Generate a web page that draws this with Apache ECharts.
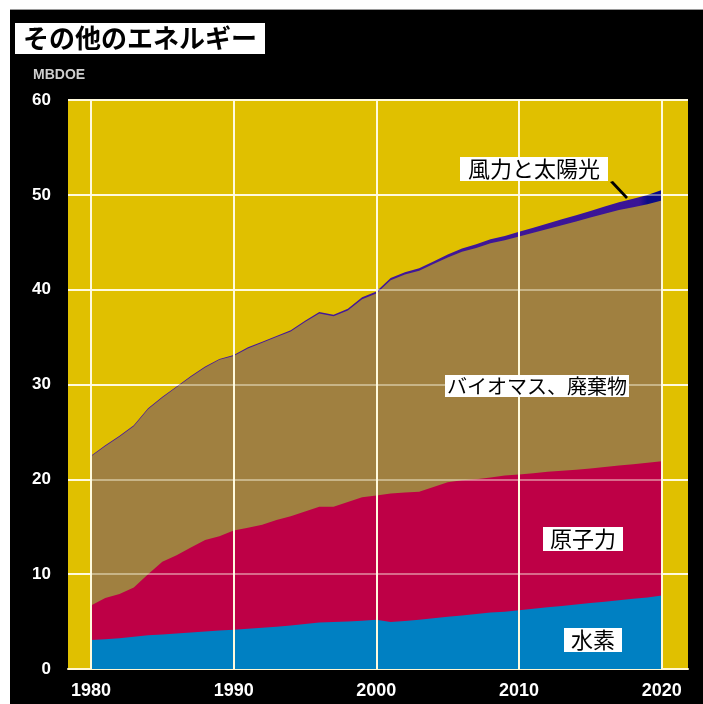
<!DOCTYPE html>
<html>
<head>
<meta charset="utf-8">
<script src="https://cdn.jsdelivr.net/npm/echarts@6/dist/echarts.min.js"></script>
<style>
  html, body { margin: 0; padding: 0; background: #fff; }
  #frame { position: absolute; left: 10px; top: 9px; width: 693px; height: 694px; border-top: 1px solid #9a9a9a; background: #000; }
  #chart { width: 693px; height: 694px; }
</style>
</head>
<body>
<div id="frame"><div id="chart"></div></div>
<script>
// Years on the horizontal axis
const years = [];
for (let y = 1980; y <= 2020; y++) years.push(y);

// Tick labels
const xTicks = [1980, 1990, 2000, 2010, 2020];
const yTicks = [0, 10, 20, 30, 40, 50, 60];

// Layers in MBDOE, stacked bottom to top
const hydro = [3.05, 3.15, 3.25, 3.4, 3.55, 3.65, 3.75, 3.85, 3.95, 4.05,
  4.15, 4.25, 4.35, 4.45, 4.6, 4.75, 4.9, 4.95, 5.0, 5.1,
  5.2, 4.95, 5.05, 5.2, 5.35, 5.5, 5.65, 5.8, 5.95, 6.05,
  6.2, 6.35, 6.5, 6.65, 6.8, 6.95, 7.1, 7.25, 7.4, 7.55, 7.75];
const nuclear = [3.65, 4.35, 4.65, 5.2, 6.45, 7.65, 8.25, 8.95, 9.65, 9.95,
  10.45, 10.65, 10.85, 11.25, 11.5, 11.85, 12.2, 12.15, 12.6, 13.0,
  13.1, 13.55, 13.55, 13.5, 13.85, 14.2, 14.25, 14.2, 14.25, 14.35,
  14.3, 14.3, 14.3, 14.25, 14.2, 14.2, 14.2, 14.2, 14.2, 14.2, 14.15];
const biomass = [15.7, 16.0, 16.6, 17.0, 17.4, 17.3, 17.7, 18.0, 18.2, 18.6,
  18.4, 18.9, 19.2, 19.3, 19.5, 20.0, 20.4, 20.1, 20.2, 20.9,
  21.3, 22.5, 23.0, 23.3, 23.5, 23.7, 24.1, 24.4, 24.7, 24.8,
  25.1, 25.35, 25.6, 25.9, 26.2, 26.45, 26.7, 26.95, 27.1, 27.25, 27.5];
const windSolar = [0.1, 0.1, 0.1, 0.1, 0.1, 0.1, 0.1, 0.1, 0.1, 0.1,
  0.12, 0.12, 0.12, 0.12, 0.12, 0.12, 0.15, 0.15, 0.18, 0.2,
  0.2, 0.22, 0.24, 0.26, 0.28, 0.3, 0.34, 0.38, 0.42, 0.46,
  0.5, 0.54, 0.58, 0.62, 0.66, 0.7, 0.76, 0.83, 0.9, 0.98, 1.1];

// Running totals: each band is drawn as an area from zero up to its cumulative top,
// upper bands first so the lower ones cover them.
const layers = [hydro, nuclear, biomass, windSolar];
const cumulative = layers.map((_, k) =>
  years.map((y, i) => {
    let s = 0;
    for (let j = 0; j <= k; j++) s += layers[j][i];
    return [y, +s.toFixed(3)];
  })
);

function bandSeries(name, k, color) {
  return {
    name: name, type: 'line', data: cumulative[k],
    showSymbol: false, symbol: 'none', smooth: false, z: 2,
    lineStyle: { width: 0 },
    areaStyle: { color: color, opacity: 1, origin: 'start' }
  };
}

// Invisible carrier series for grid lines drawn below / above the areas
function gridLines(z, color, withHorizontal) {
  const marks = xTicks.map(v => ({ xAxis: v }));
  if (withHorizontal) yTicks.slice(1).forEach(v => marks.push({ yAxis: v }));
  return {
    type: 'line', data: cumulative[0], z: z, silent: true,
    showSymbol: false, symbol: 'none',
    lineStyle: { opacity: 0, width: 0 },
    markLine: {
      silent: true, symbol: ['none', 'none'], label: { show: false },
      lineStyle: { color: color, width: 2, type: 'solid', opacity: 1 },
      data: marks
    }
  };
}

const gridUnder = '#FFF7D2';
const gridOver = 'rgba(255,255,235,0.42)';
const numFont = "'Liberation Sans', Arial, sans-serif";

const chart = echarts.init(document.getElementById('chart'), null, { renderer: 'canvas' });
chart.setOption({
  animation: false,
  backgroundColor: '#000',
  grid: { left: 58, right: 15, top: 90, bottom: 35, show: true, backgroundColor: '#E0C000', borderWidth: 0 },
  xAxis: {
    type: 'value', min: 1978.39, max: 2021.84,
    axisLine: { show: true, lineStyle: { color: gridUnder, width: 2 } },
    axisTick: { show: false },
    splitLine: { show: false },
    axisLabel: {
      customValues: xTicks, formatter: v => String(v),
      color: '#fff', fontWeight: 'bold', fontSize: 18, fontFamily: numFont, margin: 13
    }
  },
  yAxis: {
    type: 'value', min: 0, max: 60, interval: 10,
    axisLine: { show: false }, axisTick: { show: false },
    splitLine: { show: true, lineStyle: { color: gridUnder, width: 2 } },
    axisLabel: { color: '#fff', fontWeight: 'bold', fontSize: 17, fontFamily: numFont, margin: 17 }
  },
  series: [
    gridLines(1, gridUnder, false),
    bandSeries('風力と太陽光', 3, new echarts.graphic.LinearGradient(0, 0, 1, 0, [
      { offset: 0, color: '#4A1C9A' }, { offset: 0.96, color: '#3A1496' },
      { offset: 0.975, color: '#0C0C86' }, { offset: 1, color: '#0C0C86' }
    ])),
    bandSeries('バイオマス、廃棄物', 2, '#A08040'),
    bandSeries('原子力', 1, '#BE0046'),
    bandSeries('水素', 0, '#0080C2'),
    gridLines(5, gridOver, true)
  ],
  graphic: [
    {
      type: 'text', left: 5, top: 13, z: 100,
      style: {
        text: 'その他のエネルギー', fill: '#000', backgroundColor: '#fff',
        font: "bold 26px 'Noto Sans CJK JP', sans-serif", padding: [2, 8, 3, 8]
      }
    },
    {
      type: 'text', left: 23, top: 58, z: 100,
      style: { text: 'MBDOE', fill: '#cfcfcf', font: "bold 14px " + numFont }
    },
    {
      type: 'text', left: 450, top: 147, z: 100,
      style: { text: '風力と太陽光', fill: '#000', backgroundColor: '#fff', font: "22px 'Noto Sans CJK JP', sans-serif", padding: [1, 8, 1, 8] }
    },
    {
      type: 'polygon', z: 100,
      shape: { points: [[600, 172], [603, 171], [618, 187], [616, 189]] },
      style: { fill: '#000' }
    },
    {
      type: 'text', left: 435, top: 365, z: 100,
      style: { text: 'バイオマス、廃棄物', fill: '#000', backgroundColor: '#fff', font: "20px 'Noto Sans CJK JP', sans-serif", padding: [1, 2, 1, 2] }
    },
    {
      type: 'text', left: 533, top: 517, z: 100,
      style: { text: '原子力', fill: '#000', backgroundColor: '#fff', font: "22px 'Noto Sans CJK JP', sans-serif", padding: [1, 7, 1, 7] }
    },
    {
      type: 'text', left: 554, top: 618, z: 100,
      style: { text: '水素', fill: '#000', backgroundColor: '#fff', font: "22px 'Noto Sans CJK JP', sans-serif", padding: [1, 7, 1, 7] }
    }
  ]
});
</script>
</body>
</html>
